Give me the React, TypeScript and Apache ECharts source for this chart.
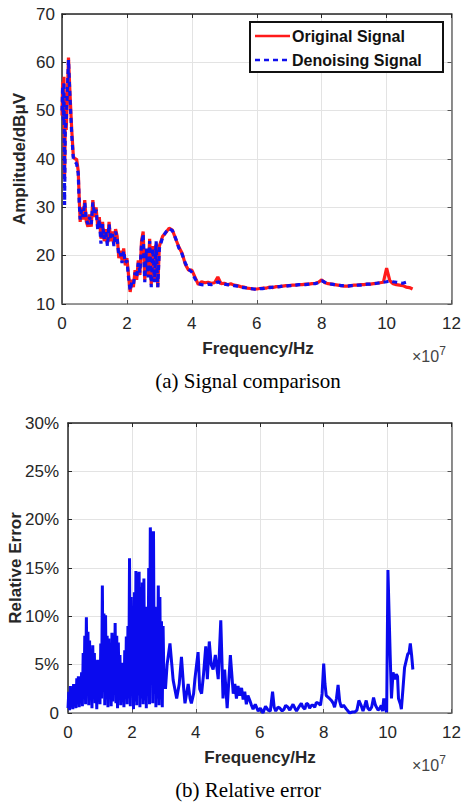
import React, { useEffect, useRef } from "react";
import * as echarts from "echarts";

// ---- Data (frequency in units of 1e7 Hz) ----
const xTickValues = [0, 2, 4, 6, 8, 10, 12];

const sigFreq = [
  0, 0.02, 0.04, 0.06, 0.08, 0.1, 0.13, 0.16, 0.2, 0.25, 0.3, 0.35, 0.4, 0.45, 0.5, 0.53, 0.56,
  0.6, 0.65, 0.7, 0.75, 0.8, 0.85, 0.9, 0.95, 1.0, 1.05,
  1.1, 1.15, 1.2, 1.25, 1.3, 1.35, 1.4, 1.45, 1.5, 1.55,
  1.6, 1.65, 1.7, 1.75, 1.8, 1.85, 1.9, 1.95, 2.0, 2.05,
  2.1, 2.15, 2.2, 2.25, 2.3, 2.35, 2.4, 2.45, 2.5, 2.55,
  2.6, 2.65, 2.7, 2.75, 2.8, 2.85, 2.9, 2.95, 3.0,
  3.1, 3.2, 3.3, 3.4, 3.5, 3.6, 3.7, 3.8, 3.9, 4.0,
  4.1, 4.2, 4.3, 4.4, 4.5, 4.6, 4.7, 4.8, 4.9, 5.0,
  5.1, 5.2, 5.3, 5.4, 5.5, 5.6, 5.7, 5.8, 5.9, 6.0,
  6.1, 6.2, 6.3, 6.4, 6.5, 6.6, 6.7, 6.8, 6.9, 7.0,
  7.1, 7.2, 7.3, 7.4, 7.5, 7.6, 7.7, 7.8, 7.9, 8.0,
  8.1, 8.2, 8.3, 8.4, 8.5, 8.6, 8.7, 8.8, 8.9, 9.0,
  9.1, 9.2, 9.3, 9.4, 9.5, 9.6, 9.7, 9.8, 9.9, 10.0,
  10.1, 10.2, 10.3, 10.4, 10.5, 10.6, 10.7, 10.8,
];

const sigOriginal = [
  49, 56, 50, 57, 36, 47, 46, 52, 61, 53, 46, 40.5, 40, 40, 37.5, 32, 27,
  30, 27.5, 31.5, 27, 26, 28.5, 26, 31.5, 28, 30,
  26, 28, 23.5, 27, 23, 25.5, 22.5, 27, 23, 25,
  22.5, 25.5, 24, 19.5, 21, 19, 21.5, 18, 19.5, 16,
  12.5, 15, 13.5, 17, 15, 19, 16, 23, 25, 15,
  21, 16, 23.5, 14, 22, 15, 22.5, 13.5, 22,
  24, 24.8, 25.7, 25.3, 23.5, 21.8, 20.5, 18.2, 17, 17,
  15.5, 14, 14.6, 14.4, 14.5, 14.3, 14.4, 15.6, 14.2, 14.3,
  14.0, 14.2, 13.9, 13.8, 13.6, 13.5, 13.3, 13.2, 13.1, 13.1,
  13.2, 13.3, 13.3, 13.5, 13.4, 13.6, 13.6, 13.7, 13.8, 13.8,
  13.9, 13.9, 14.0, 14.0, 14.1, 14.1, 14.2, 14.3, 14.5, 15.0,
  14.4, 14.2, 14.1, 14.0, 13.9, 13.8, 13.7, 13.7, 13.8, 13.9,
  13.9, 14.0, 14.0, 14.1, 14.1, 14.2, 14.3, 14.4, 14.5, 17.4,
  14.8, 14.2, 14.0, 13.9, 13.8, 13.5, 13.4, 13.1,
];

const sigDenoised = [
  50, 55, 48, 56, 30.5, 46, 48, 53, 60.5, 52, 45, 40, 39.5, 39, 37, 31, 27.5,
  29.5, 28, 31, 27.5, 26.5, 28, 26.5, 31, 28.5, 29.5,
  25.5, 27.5, 22.5, 26.5, 23.5, 25, 22, 26.5, 23.5, 24.5,
  22, 25, 23.5, 20, 20.5, 18.5, 21, 18.5, 19, 15.5,
  12.8, 14.5, 14, 16.5, 15.5, 18.5, 16.5, 22.5, 24.5, 14.5,
  21.5, 15.5, 23, 13.5, 21.5, 14.5, 23, 13.5, 21.5,
  23.8, 24.9, 25.6, 25.2, 23.6, 21.6, 20.3, 18.4, 17.2, 16.6,
  15.2, 14.2, 14.0, 13.9, 14.1, 14.0, 14.2, 14.6, 14.3, 14.1,
  14.0, 13.9, 13.8, 13.7, 13.5, 13.4, 13.3, 13.2, 13.1, 13.0,
  13.2, 13.2, 13.4, 13.4, 13.5, 13.5, 13.6, 13.7, 13.7, 13.8,
  13.8, 13.9, 14.0, 14.0, 14.0, 14.1, 14.2, 14.2, 14.4, 14.8,
  14.5, 14.3, 14.1, 14.0, 13.9, 13.8, 13.8, 13.7, 13.8, 13.8,
  13.9, 13.9, 14.0, 14.1, 14.1, 14.2, 14.3, 14.4, 14.5, 14.6,
  14.8, 14.6, 14.5, 14.4, 14.3, 14.5, 14.7, null,
];

const errFreq = [
  0, 0.025, 0.05, 0.075, 0.1, 0.125, 0.15, 0.175, 0.2, 0.225,
  0.25, 0.275, 0.3, 0.325, 0.35, 0.375, 0.4, 0.425, 0.45, 0.475,
  0.5, 0.525, 0.55, 0.575, 0.6, 0.625, 0.65, 0.675, 0.7, 0.725,
  0.75, 0.775, 0.8, 0.825, 0.85, 0.875, 0.9, 0.925, 0.95, 0.975,
  1, 1.025, 1.05, 1.075, 1.1, 1.125, 1.15, 1.175, 1.2, 1.225,
  1.25, 1.275, 1.3, 1.325, 1.35, 1.375, 1.4, 1.425, 1.45, 1.475,
  1.5, 1.525, 1.55, 1.575, 1.6, 1.625, 1.65, 1.675, 1.7, 1.725,
  1.75, 1.775, 1.8, 1.825, 1.85, 1.875, 1.9, 1.925, 1.95, 1.975,
  2, 2.025, 2.05, 2.075, 2.1, 2.125, 2.15, 2.175, 2.2, 2.225,
  2.25, 2.275, 2.3, 2.325, 2.35, 2.375, 2.4, 2.425, 2.45, 2.475,
  2.5, 2.525, 2.55, 2.575, 2.6, 2.625, 2.65, 2.675, 2.7, 2.725,
  2.75, 2.775, 2.8, 2.825, 2.85, 2.875, 2.9, 2.925, 2.95, 2.975,
  3,
  3.05, 3.1, 3.19, 3.29, 3.4, 3.48, 3.55, 3.62, 3.66, 3.76,
  3.82, 3.86, 3.93, 3.97, 4.07, 4.12, 4.18, 4.24, 4.31, 4.36,
  4.42, 4.48, 4.54, 4.61, 4.7, 4.78, 4.85, 4.9, 4.98, 5.08,
  5.17, 5.22, 5.27, 5.32, 5.37, 5.43, 5.48, 5.53, 5.58, 5.63,
  5.69, 5.74, 5.79, 5.86, 5.95, 6.02, 6.1, 6.18, 6.26, 6.33,
  6.4, 6.45, 6.5, 6.57, 6.63, 6.7, 6.76, 6.81, 6.88, 6.94,
  7.04, 7.1, 7.15, 7.22, 7.3, 7.35, 7.41, 7.46, 7.51, 7.56,
  7.62, 7.67, 7.72, 7.77, 7.84, 7.9, 7.95, 8.0, 8.04, 8.08,
  8.15, 8.24, 8.3, 8.34, 8.4, 8.45, 8.5, 8.55, 8.62, 8.71,
  8.76, 8.81, 8.9, 8.97, 9.04, 9.1, 9.17, 9.23, 9.28, 9.33,
  9.38, 9.44, 9.5, 9.56, 9.62, 9.7, 9.76, 9.8, 9.84, 9.88,
  9.94, 9.97, 10.01, 10.08, 10.12, 10.17, 10.22, 10.27, 10.31, 10.34,
  10.4, 10.43, 10.48, 10.53, 10.58, 10.63, 10.67, 10.71, 10.75, 10.79,
];

const errValue = [
  0.5, 2.2, 0.3, 2.8, 0.6, 2.5, 0.4, 3.0, 0.8, 2.7,
  0.5, 3.6, 1.0, 3.8, 0.6, 3.5, 1.2, 4.2, 0.7, 6.2,
  1.5, 8.0, 0.9, 9.9, 2.0, 8.4, 0.8, 7.5, 1.8, 5.8,
  0.5, 7.0, 1.6, 6.2, 1.0, 5.4, 0.4, 5.5, 1.7, 4.8,
  0.9, 7.2, 1.5, 13.2, 2.2, 10.3, 0.8, 10.1, 1.4, 8.0,
  0.6, 7.7, 1.9, 6.5, 0.7, 8.3, 1.2, 7.6, 2.0, 9.3,
  1.0, 8.0, 0.5, 7.3, 1.6, 6.0, 0.8, 5.2, 1.4, 4.5,
  0.6, 6.5, 1.8, 7.9, 0.9, 9.0, 1.5, 16.0, 0.7, 12.0,
  2.0, 10.0, 0.4, 12.5, 1.2, 14.7, 0.8, 14.5, 1.8, 14.6,
  0.6, 13.0, 1.5, 13.5, 0.9, 13.9, 1.3, 11.0, 0.5, 9.0,
  1.8, 15.0, 0.9, 19.2, 17.0, 17.5, 1.0, 18.8, 2.0, 11.0,
  0.6, 8.0, 1.5, 13.2, 0.8, 12.0, 1.4, 9.5, 0.6, 9.0,
  3.5,
  2.5, 5.0, 7.2, 3.4, 1.5, 3.0, 5.8, 2.5, 1.0, 3.0,
  1.5, 1.0, 2.0, 3.5, 6.3, 2.5, 2.0, 4.0, 6.9, 3.5,
  7.4, 5.0, 4.5, 6.0, 3.5, 9.6, 1.5, 4.5, 0.5, 6.0,
  2.0, 3.0, 1.5, 2.8, 1.8, 2.6, 1.4, 2.2, 0.9, 1.8,
  1.3, 0.8, 0.4, 0.9, 0.2, 0.5, 0.0, 0.7, 0.3, 0.2,
  2.2, 0.6, 0.2, 0.6, 0.5, 0.2, 0.4, 0.8, 0.6, 0.3,
  0.9, 0.5, 0.2, 0.6, 1.0, 0.6, 0.4, 1.0, 0.9, 0.5,
  0.8, 0.8, 0.6, 1.1, 1.0, 0.8, 2.0, 5.1, 3.0, 1.8,
  1.6, 1.3, 1.0, 0.6, 1.5, 2.9, 1.2, 0.6, 0.8, 0.4,
  0.2, 0.0, 0.1, 0.1, 0.3, 1.3, 0.8, 0.2, 0.7, 1.3,
  0.5, 0.3, 0.6, 1.6, 0.8, 0.3, 0.5, 0.8, 0.2, 1.5,
  0.3, 0.1, 14.8, 6.0, 1.5, 4.2, 3.5, 4.0, 3.8, 1.5,
  0.9, 0.4, 2.5, 4.7, 5.4, 6.1, 6.2, 7.2, 6.0, 4.5,
];

const ampTicks = [10, 20, 30, 40, 50, 60, 70];
const errTicks = [0, 5, 10, 15, 20, 25, 30];

const FONT = "'Liberation Sans', Arial, Helvetica, sans-serif";
const SERIF = "'Liberation Serif', 'Times New Roman', serif";
const DARK = "#262626";
const GRID_COLOR = "#e3e3e3";

function mainX(gridIndex: number) {
  return {
    type: "value",
    gridIndex,
    min: xTickValues[0],
    max: xTickValues[xTickValues.length - 1],
    interval: 2,
    position: "bottom",
    axisLine: { show: true, onZero: false, lineStyle: { color: "#7a7a7a", width: 1.5 } },
    axisTick: { show: true, inside: true, length: 4, lineStyle: { color: "#555" } },
    axisLabel: { show: true, fontSize: 17, fontFamily: FONT, color: DARK, margin: 11 },
    splitLine: { show: true, lineStyle: { color: GRID_COLOR, width: 1 } },
  };
}
function topX(gridIndex: number) {
  return {
    type: "value",
    gridIndex,
    min: 0,
    max: 12,
    interval: 2,
    position: "top",
    axisLine: { show: true, onZero: false, lineStyle: { color: "#262626", width: 1.5 } },
    axisTick: { show: true, inside: true, length: 4, lineStyle: { color: "#262626" } },
    axisLabel: { show: false },
    splitLine: { show: false },
  };
}
function leftY(gridIndex: number, ticks: number[], fmt: (v: number) => string, margin: number) {
  return {
    type: "value",
    gridIndex,
    min: ticks[0],
    max: ticks[ticks.length - 1],
    interval: ticks[1] - ticks[0],
    position: "left",
    axisLine: { show: true, onZero: false, lineStyle: { color: "#262626", width: 1.5 } },
    axisTick: { show: true, inside: true, length: 4, lineStyle: { color: "#262626" } },
    axisLabel: { show: true, fontSize: 17, fontFamily: FONT, color: DARK, margin, formatter: fmt },
    splitLine: { show: true, lineStyle: { color: GRID_COLOR, width: 1 } },
  };
}
function rightY(gridIndex: number, ticks: number[]) {
  return {
    type: "value",
    gridIndex,
    min: ticks[0],
    max: ticks[ticks.length - 1],
    interval: ticks[1] - ticks[0],
    position: "right",
    axisLine: { show: true, onZero: false, lineStyle: { color: "#6a6a6a", width: 1.5 } },
    axisTick: { show: true, inside: true, length: 4, lineStyle: { color: "#555" } },
    axisLabel: { show: false },
    splitLine: { show: false },
  };
}

export default function App() {
  const ref = useRef<HTMLDivElement>(null);
  useEffect(() => {
    if (!ref.current) return;
    const chart = echarts.init(ref.current, undefined, { renderer: "svg" });

    const origData = sigFreq.map((f, i) => [f, sigOriginal[i]]);
    const denData = sigFreq.map((f, i) => [f, sigDenoised[i]]);
    const errData = errFreq.map((f, i) => [f, errValue[i]]);

    const titleStyle = { fontSize: 17, fontWeight: "bold", fontFamily: FONT, fill: DARK };

    chart.setOption({
      animation: false,
      backgroundColor: "#ffffff",
      grid: [
        { left: 62, top: 14, width: 390, height: 290 },
        { left: 68, top: 423, width: 384, height: 290 },
      ],
      xAxis: [mainX(0), topX(0), mainX(1), topX(1)],
      yAxis: [
        leftY(0, ampTicks, (v: number) => String(v), 7),
        rightY(0, ampTicks),
        leftY(1, errTicks, (v: number) => (v === 0 ? "0" : v + "%"), 9),
        rightY(1, errTicks),
      ],
      series: [
        {
          name: "Original Signal",
          type: "line",
          xAxisIndex: 0,
          yAxisIndex: 0,
          data: origData,
          showSymbol: false,
          connectNulls: false,
          lineStyle: { color: "#ff1a1a", width: 3.2 },
          z: 2,
        },
        {
          name: "Denoising Signal",
          type: "line",
          xAxisIndex: 0,
          yAxisIndex: 0,
          data: denData,
          showSymbol: false,
          connectNulls: false,
          lineStyle: { color: "#1010ee", width: 3.2, type: [5, 4] },
          z: 3,
        },
        {
          name: "Relative Error",
          type: "line",
          xAxisIndex: 2,
          yAxisIndex: 2,
          data: errData,
          showSymbol: false,
          lineStyle: { color: "#0a0aee", width: 3 },
          z: 2,
        },
      ],
      graphic: [
        // Legend box
        {
          type: "rect",
          shape: { x: 250, y: 22, width: 193, height: 50 },
          style: { fill: "#ffffff", stroke: "#111111", lineWidth: 2 },
          z: 100,
        },
        {
          type: "line",
          shape: { x1: 255, y1: 36, x2: 290, y2: 36 },
          style: { stroke: "#ff1a1a", lineWidth: 2.6 },
          z: 101,
        },
        {
          type: "text",
          x: 292,
          y: 36,
          style: { text: "Original Signal", fontSize: 16, fontWeight: "bold", fontFamily: FONT, fill: "#111", verticalAlign: "middle", align: "left" },
          z: 101,
        },
        {
          type: "line",
          shape: { x1: 255, y1: 60, x2: 290, y2: 60 },
          style: { stroke: "#1010ee", lineWidth: 2.6, lineDash: [5, 4] },
          z: 101,
        },
        {
          type: "text",
          x: 292,
          y: 60,
          style: { text: "Denoising Signal", fontSize: 16, fontWeight: "bold", fontFamily: FONT, fill: "#111", verticalAlign: "middle", align: "left" },
          z: 101,
        },
        // Axis titles
        {
          type: "text",
          x: 19,
          y: 159,
          rotation: Math.PI / 2,
          style: { text: "Amplitude/dBμV", align: "center", verticalAlign: "middle", ...titleStyle },
        },
        {
          type: "text",
          x: 258,
          y: 348,
          style: { text: "Frequency/Hz", align: "center", verticalAlign: "middle", ...titleStyle },
        },
        {
          type: "text",
          x: 412,
          y: 356,
          style: {
            text: "×10{sup|7}",
            align: "left",
            verticalAlign: "middle",
            fontSize: 16,
            fontFamily: FONT,
            fill: "#444",
            rich: { sup: { fontSize: 12, fontFamily: FONT, fill: "#444", verticalAlign: "top", padding: [0, 0, 10, 0] } },
          },
        },
        {
          type: "text",
          x: 248,
          y: 381,
          style: { text: "(a) Signal comparison", align: "center", verticalAlign: "middle", fontSize: 21, fontFamily: SERIF, fill: "#000" },
        },
        {
          type: "text",
          x: 15,
          y: 568,
          rotation: Math.PI / 2,
          style: { text: "Relative Error", align: "center", verticalAlign: "middle", ...titleStyle },
        },
        {
          type: "text",
          x: 260,
          y: 757,
          style: { text: "Frequency/Hz", align: "center", verticalAlign: "middle", ...titleStyle },
        },
        {
          type: "text",
          x: 412,
          y: 765,
          style: {
            text: "×10{sup|7}",
            align: "left",
            verticalAlign: "middle",
            fontSize: 16,
            fontFamily: FONT,
            fill: "#444",
            rich: { sup: { fontSize: 12, fontFamily: FONT, fill: "#444", verticalAlign: "top", padding: [0, 0, 10, 0] } },
          },
        },
        {
          type: "text",
          x: 248,
          y: 790,
          style: { text: "(b) Relative error", align: "center", verticalAlign: "middle", fontSize: 21, fontFamily: SERIF, fill: "#000" },
        },
      ],
    });
    return () => {
      chart.dispose();
    };
  }, []);

  return (
    <div
      ref={ref}
      style={{ position: "fixed", left: 0, top: 0, width: 464, height: 804, background: "#fff" }}
    />
  );
}
